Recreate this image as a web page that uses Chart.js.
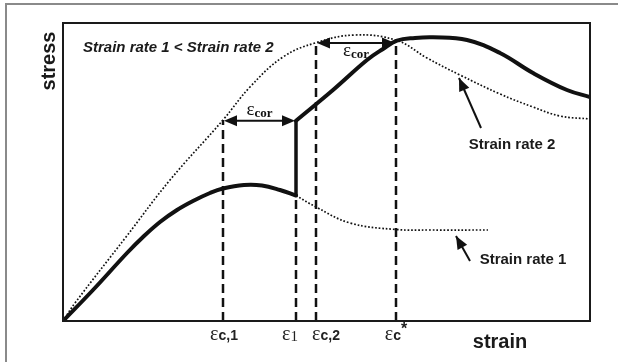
<!DOCTYPE html>
<html><head><meta charset="utf-8">
<script src="https://cdn.jsdelivr.net/npm/chart.js@4/dist/chart.umd.min.js"></script>
<style>html,body{margin:0;padding:0;background:#fff;}canvas{display:block;}</style>
</head><body>
<canvas id="c" width="618" height="362"></canvas>
<script>
// ---- data (strain / stress in arbitrary units) ----
const rate2FreeStrain = [0, 12, 63, 107, 160, 187, 220, 252, 292, 334, 364, 397, 437, 470, 497, 527];
const rate2FreeStress = [0, 18, 84, 141, 201, 234, 264, 278, 286, 280.5, 263, 246, 227, 214, 205, 202];
const rate1SolidStrain = [0, 30, 64, 80, 97, 114, 130, 147, 160, 181, 199, 217, 233];
const rate1SolidStress = [0, 31, 68, 84, 99, 111, 120, 128, 132.5, 136, 135.5, 131, 125.5];
const jumpStrain = [233, 233];
const jumpStress = [125.5, 200.3];
const rate2SolidStrain = [233, 270, 304, 320, 334, 352, 370, 404, 437, 470, 504, 527];
const rate2SolidStress = [200.3, 231, 261, 272, 280.3, 283, 283.7, 281, 268, 248, 231, 224];
const rate1FreeStrain = [233, 253, 287, 333, 367, 425];
const rate1FreeStress = [125.5, 114, 98, 91.5, 91, 91];
const markerLabels = ['εc,1', 'ε1', 'εc,2', 'εc*'];
const markerStrain = [160, 233, 253, 333];
const markerStress = [201, 125.5, 278, 278];
const corrLabel = 'εcor';
const corrStrainFrom = [160, 253];
const corrStrainTo = [233, 333];
const corrStress = [200.3, 278];
const pointerLabels = ['Strain rate 2', 'Strain rate 1'];
const pointerTipStrain = [396, 393];
const pointerTipStress = [243, 85];
const pointerTailStrain = [418, 407];
const pointerTailStress = [193, 60];
const noteText = 'Strain rate 1 < Strain rate 2';
const xTitle = 'strain';
const yTitle = 'stress';

// ---- layout / style (not data) ----
const markerLabelShift = [1, -6, 10, 0];
const corrLabelDy = [-6, 13];
const pointerLabelPos = [{x: 512, y: 149}, {x: 523, y: 264}];

const pts = (xs, ys) => xs.map((x, i) => ({x: x, y: ys[i]}));
const datasets = [];
markerStrain.forEach((s, i) => {
  datasets.push({data: pts([s, s], [0, markerStress[i]]), borderColor: '#111', borderWidth: 2.5, borderDash: [9, 5], tension: 0});
});
datasets.push({data: pts(rate2FreeStrain, rate2FreeStress), borderColor: '#111', borderWidth: 1.7, borderDash: [1.7, 1.9], tension: 0.4});
datasets.push({data: pts(rate1FreeStrain, rate1FreeStress), borderColor: '#111', borderWidth: 1.7, borderDash: [1.7, 1.9], tension: 0.4});
datasets.push({data: pts(rate1SolidStrain, rate1SolidStress), borderColor: '#111', borderWidth: 4, tension: 0.4, borderCapStyle: 'round'});
datasets.push({data: pts(jumpStrain, jumpStress), borderColor: '#111', borderWidth: 3.5, tension: 0});
datasets.push({data: pts(rate2SolidStrain, rate2SolidStress), borderColor: '#111', borderWidth: 4, tension: 0.4, borderCapStyle: 'round'});
corrStrainFrom.forEach((s, i) => {
  datasets.push({data: pts([s + 8, corrStrainTo[i] - 8], [corrStress[i], corrStress[i]]), borderColor: '#111', borderWidth: 2, tension: 0});
});
pointerTipStrain.forEach((s, i) => {
  datasets.push({data: pts([pointerTailStrain[i], s], [pointerTailStress[i], pointerTipStress[i]]), borderColor: '#111', borderWidth: 2, tension: 0});
});

function head(ctx, tx, ty, fx, fy, len, half) {
  const a = Math.atan2(ty - fy, tx - fx);
  ctx.save();
  ctx.translate(tx, ty); ctx.rotate(a);
  ctx.beginPath(); ctx.moveTo(0, 0); ctx.lineTo(-len, -half); ctx.lineTo(-len, half); ctx.closePath();
  ctx.fillStyle = '#111'; ctx.fill();
  ctx.restore();
}

const deco = {
  id: 'deco',
  beforeDraw(chart) {
    const ctx = chart.ctx;
    ctx.save();
    ctx.fillStyle = '#fff'; ctx.fillRect(0, 0, chart.width, chart.height);
    ctx.strokeStyle = '#8a8a8a'; ctx.lineWidth = 2;
    ctx.beginPath(); ctx.moveTo(6, chart.height); ctx.lineTo(6, 4); ctx.lineTo(chart.width, 4); ctx.stroke();
    ctx.restore();
  },
  afterDatasetsDraw(chart) {
    const ctx = chart.ctx, xs = chart.scales.x, ys = chart.scales.y, a = chart.chartArea;
    ctx.save();
    ctx.strokeStyle = '#1a1a1a'; ctx.lineWidth = 2;
    ctx.strokeRect(a.left, a.top, a.right - a.left, a.bottom - a.top);
    corrStrainFrom.forEach((s, i) => {
      const x1 = xs.getPixelForValue(s), x2 = xs.getPixelForValue(corrStrainTo[i]), y = ys.getPixelForValue(corrStress[i]);
      head(ctx, x1 + 1, y, x1 + 20, y, 13, 5.5);
      head(ctx, x2 - 1, y, x2 - 20, y, 13, 5.5);
      const cx = (x1 + x2) / 2, by = y + corrLabelDy[i];
      ctx.fillStyle = '#111';
      const e = corrLabel.slice(0, 1), sub = corrLabel.slice(1);
      ctx.font = '19px "Liberation Serif"'; const we = ctx.measureText(e).width;
      ctx.font = 'bold 13px "Liberation Serif"'; const ws = ctx.measureText(sub).width;
      const x0 = cx - (we + ws) / 2;
      ctx.textBaseline = 'alphabetic'; ctx.textAlign = 'left';
      ctx.font = '19px "Liberation Serif"'; ctx.fillText(e, x0, by);
      ctx.font = 'bold 13px "Liberation Serif"'; ctx.fillText(sub, x0 + we, by + 2);
    });
    pointerTipStrain.forEach((s, i) => {
      const tx = xs.getPixelForValue(s), ty = ys.getPixelForValue(pointerTipStress[i]);
      const fx = xs.getPixelForValue(pointerTailStrain[i]), fy = ys.getPixelForValue(pointerTailStress[i]);
      head(ctx, tx, ty, fx, fy, 13, 5.5);
      ctx.fillStyle = '#1a1a1a'; ctx.font = 'bold 15px "Liberation Sans"';
      ctx.textAlign = 'center'; ctx.textBaseline = 'alphabetic';
      ctx.fillText(pointerLabels[i], pointerLabelPos[i].x, pointerLabelPos[i].y);
    });
    markerLabels.forEach((lab, i) => {
      const cx = xs.getPixelForValue(markerStrain[i]) + markerLabelShift[i];
      const by = a.bottom + 19;
      const e = lab.slice(0, 1);
      let rest = lab.slice(1), star = '';
      if (rest.endsWith('*')) { star = '*'; rest = rest.slice(0, -1); }
      const serifSub = /^[0-9]+$/.test(rest);
      const subFont = serifSub ? '15px "Liberation Serif"' : 'bold 14px "Liberation Sans"';
      ctx.font = '20px "Liberation Serif"'; const we = ctx.measureText(e).width;
      ctx.font = subFont; const wr = ctx.measureText(rest).width;
      ctx.font = 'bold 16px "Liberation Sans"'; const wst = star ? ctx.measureText(star).width : 0;
      const x0 = cx - (we + wr + wst) / 2;
      ctx.fillStyle = '#222'; ctx.textAlign = 'left'; ctx.textBaseline = 'alphabetic';
      ctx.font = '20px "Liberation Serif"'; ctx.fillText(e, x0, by);
      ctx.font = subFont; ctx.fillText(rest, x0 + we, by + (serifSub ? 1 : 0));
      if (star) { ctx.font = 'bold 16px "Liberation Sans"'; ctx.fillText(star, x0 + we + wr, by - 6); }
    });
    ctx.fillStyle = '#1a1a1a';
    ctx.font = 'italic bold 15px "Liberation Sans"'; ctx.textAlign = 'left';
    ctx.fillText(noteText, 83, 52);
    ctx.font = 'bold 20px "Liberation Sans"'; ctx.textAlign = 'center';
    ctx.fillText(xTitle, 500, 348);
    ctx.save(); ctx.translate(55, 61); ctx.rotate(-Math.PI / 2);
    ctx.fillText(yTitle, 0, 0); ctx.restore();
    ctx.restore();
  }
};

new Chart(document.getElementById('c'), {
  type: 'line',
  data: {datasets: datasets},
  options: {
    responsive: false, animation: false, devicePixelRatio: 1,
    layout: {padding: {left: 63, top: 23, right: 28, bottom: 41}},
    elements: {point: {radius: 0, hoverRadius: 0}},
    plugins: {legend: {display: false}, tooltip: {enabled: false}},
    events: [],
    scales: {
      x: {type: 'linear', min: 0, max: 527, display: false},
      y: {type: 'linear', min: 0, max: 298, display: false}
    }
  },
  plugins: [deco]
});
</script>
</body></html>
